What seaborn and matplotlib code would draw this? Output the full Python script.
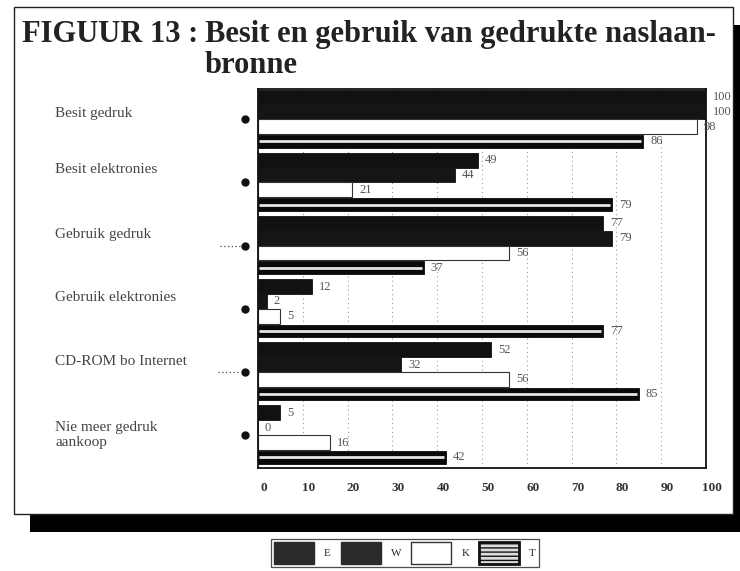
import matplotlib
matplotlib.use("Agg")
import matplotlib.pyplot as plt
import matplotlib.transforms as mtransforms
from matplotlib.patches import Rectangle, Patch
import seaborn as sns
import pandas as pd

# ---- data ----
categories = ["Besit gedruk", "Besit elektronies", "Gebruik gedruk",
              "Gebruik elektronies", "CD-ROM bo Internet", "Nie meer gedruk\naankoop"]
series = ["E", "W", "K", "T"]
E_vals = [100, 49, 77, 12, 52, 5]
W_vals = [100, 44, 79, 2, 32, 0]
K_vals = [98, 21, 56, 5, 56, 16]
T_vals = [86, 79, 37, 77, 85, 42]
x_ticks = [0, 10, 20, 30, 40, 50, 60, 70, 80, 90, 100]
title_left = "FIGUUR 13 :"
title_line1 = "Besit en gebruik van gedrukte naslaan-"
title_line2 = "bronne"

rows = []
for s, vals in zip(series, [E_vals, W_vals, K_vals, T_vals]):
    for c, v in zip(categories, vals):
        rows.append({"category": c, "series": s, "value": v})
df = pd.DataFrame(rows)

sns.set_style("white")
plt.rcParams["font.family"] = ["Liberation Serif", "DejaVu Serif"]

W_PX, H_PX = 740, 571
fig = plt.figure(figsize=(W_PX / 100, H_PX / 100), dpi=100)

def fx(px):
    return px / W_PX

def fy(py):
    return 1 - py / H_PX

# frame with shadow
shadow = Rectangle((fx(30), fy(532)), fx(733) - fx(14), fy(7) - fy(514),
                   transform=fig.transFigure, facecolor="black", edgecolor="none", zorder=0)
frame = Rectangle((fx(14), fy(514)), fx(733) - fx(14), fy(7) - fy(514),
                  transform=fig.transFigure, facecolor="white", edgecolor="#222",
                  linewidth=1.0, zorder=0.5)
fig.patches.extend([shadow, frame])

ax = fig.add_axes([fx(258), fy(468), fx(706) - fx(258), fy(89) - fy(468)])
ax.set_zorder(2)

palette = {"E": "#111111", "W": "#151515", "K": "white", "T": "#0a0a0a"}
sns.barplot(data=df, y="category", x="value", hue="series", orient="h",
            palette=palette, width=0.94, errorbar=None, ax=ax, legend=False,
            saturation=1)

ax.set_xlim(0, 100)
ax.set_ylim(5.52, -0.48)
ax.set_xticks(x_ticks)
ax.set_xticklabels([str(t) for t in x_ticks], fontweight="bold", fontsize=9.5, color="#333")
ax.tick_params(axis="x", length=0, pad=10)
shift = mtransforms.ScaledTranslation(6 / 100, 0, fig.dpi_scale_trans)
for lab in ax.get_xticklabels():
    lab.set_transform(lab.get_transform() + shift)
ax.set_yticks([])
ax.set_xlabel("")
ax.set_ylabel("")
ax.xaxis.grid(True, linestyle=(0, (1, 3)), color="#999", linewidth=0.8)
ax.set_axisbelow(True)
for sp in ax.spines.values():
    sp.set_color("#111")
    sp.set_linewidth(1.3)

# style containers
conts = ax.containers
for k in (0, 1):
    for bar in conts[k]:
        bar.set_edgecolor(bar.get_facecolor())
        bar.set_linewidth(0.6)
for bar in conts[2]:
    bar.set_edgecolor("#333")
    bar.set_linewidth(0.8)
for bar in conts[3]:
    bar.set_edgecolor("#0a0a0a")
    bar.set_linewidth(0.6)
    y0, h = bar.get_y(), bar.get_height()
    bar.set_y(y0 + h * 0.06)
    bar.set_height(h * 0.86)
    yc = bar.get_y() + bar.get_height() * 0.5
    ax.plot([bar.get_x() + 0.3, bar.get_x() + bar.get_width() - 0.5],
            [yc, yc], color="#e6e6e6", linewidth=2.0,
            solid_capstyle="butt", zorder=3)

for cont, vals in zip(conts, [E_vals, W_vals, K_vals, T_vals]):
    ax.bar_label(cont, labels=[str(v) for v in vals], padding=5, fontsize=9,
                 color="#555")

# category labels and dots
blend_fig = mtransforms.blended_transform_factory(fig.transFigure, ax.transData)
blend_ax = mtransforms.blended_transform_factory(ax.transAxes, ax.transData)
label_offsets = [-0.1, -0.2, -0.18, -0.18, -0.17, 0.0]
for i, c in enumerate(categories):
    fig.text(fx(55), i + label_offsets[i], c, transform=blend_fig, ha="left",
             va="center", fontsize=11, color="#444", linespacing=1.2)
    ax.plot([-0.03], [i], marker="o", markersize=5, color="#111",
            transform=blend_ax, clip_on=False)
ax.plot([-0.085, -0.04], [2, 2], linestyle=(0, (1, 2)), color="#444",
        linewidth=0.9, transform=blend_ax, clip_on=False)
ax.plot([-0.09, -0.04], [4, 4], linestyle=(0, (1, 2)), color="#444",
        linewidth=0.9, transform=blend_ax, clip_on=False)

# title
fig.text(fx(22), fy(42), title_left, ha="left", va="baseline", fontsize=22,
         fontweight="bold", color="#222")
fig.text(fx(205), fy(42), title_line1, ha="left", va="baseline", fontsize=22,
         fontweight="bold", color="#222")
fig.text(fx(205), fy(73), title_line2, ha="left", va="baseline", fontsize=22,
         fontweight="bold", color="#222")

# legend
handles = [
    Patch(facecolor="#2b2b2b", edgecolor="#2b2b2b", label="E"),
    Patch(facecolor="#2b2b2b", edgecolor="#2b2b2b", label="W"),
    Patch(facecolor="white", edgecolor="#333", label="K"),
    Patch(facecolor="#dddddd", edgecolor="#111", linewidth=2, hatch="----", label="T"),
]
leg = fig.legend(handles=handles, loc="center", bbox_to_anchor=(fx(405), fy(553)),
                 ncol=4, frameon=True, fancybox=False, edgecolor="#222",
                 fontsize=8, handlelength=3.6, handleheight=2.6, columnspacing=0.9,
                 handletextpad=0.9, borderpad=0.25)
leg.get_frame().set_linewidth(0.9)

fig.savefig("out.png", dpi=100)
